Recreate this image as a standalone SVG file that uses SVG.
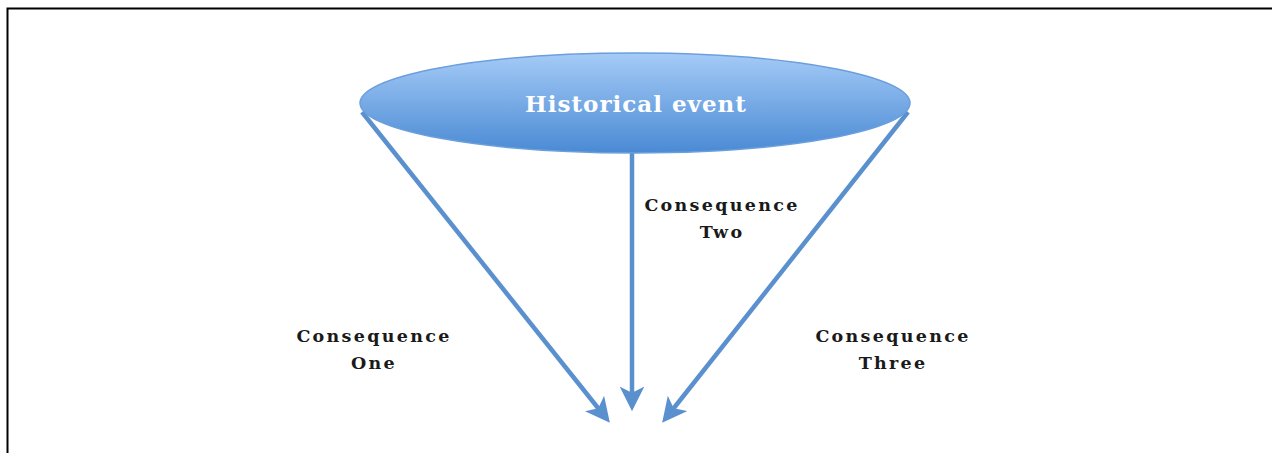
<svg xmlns="http://www.w3.org/2000/svg" width="1272" height="453" viewBox="0 0 1272 453">
<style>
.lbl{font-family:"DejaVu Serif","Liberation Serif",serif;font-weight:bold;font-size:17.5px;letter-spacing:2.3px;fill:#1a1a1a;text-anchor:middle}
.title{font-family:"DejaVu Serif","Liberation Serif",serif;font-weight:bold;font-size:23px;fill:#ffffff;text-anchor:middle;letter-spacing:1px}
.conn{stroke:#5b90cf;stroke-width:4.5;fill:none;marker-end:url(#ah)}
</style>
<defs>
<linearGradient id="g" x1="0" y1="0" x2="0" y2="1">
<stop offset="0" stop-color="#a5cbf7"/>
<stop offset="1" stop-color="#4a8ad4"/>
</linearGradient>
<marker id="ah" viewBox="0 0 12 12" refX="9" refY="6" markerWidth="5.5" markerHeight="5.5" orient="auto" markerUnits="strokeWidth">
<path d="M0,0 L12,6 L0,12 L3,6 z" fill="#5b90cf"/>
</marker>
</defs>
<rect width="1272" height="453" fill="#ffffff"/>
<path d="M7.5,453 V8.5 H1272" stroke="#000" stroke-width="2" fill="none"/>
<g id="connectors">
<line class="conn" x1="362" y1="112" x2="606" y2="418"/>
<line class="conn" x1="632" y1="153" x2="632" y2="405"/>
<line class="conn" x1="908" y1="112" x2="666" y2="418"/>
</g>
<g id="historical-event">
<ellipse cx="635" cy="103" rx="275" ry="50" fill="url(#g)" stroke="#6a9fdc" stroke-width="1.5"/>
<text class="title" x="636" y="112">Historical event</text>
</g>
<g id="consequence-one">
<text class="lbl" x="374" y="342">Consequence</text>
<text class="lbl" x="374" y="369">One</text>
</g>
<g id="consequence-two">
<text class="lbl" x="722" y="211">Consequence</text>
<text class="lbl" x="722" y="238">Two</text>
</g>
<g id="consequence-three">
<text class="lbl" x="893" y="342">Consequence</text>
<text class="lbl" x="893" y="369">Three</text>
</g>
</svg>
